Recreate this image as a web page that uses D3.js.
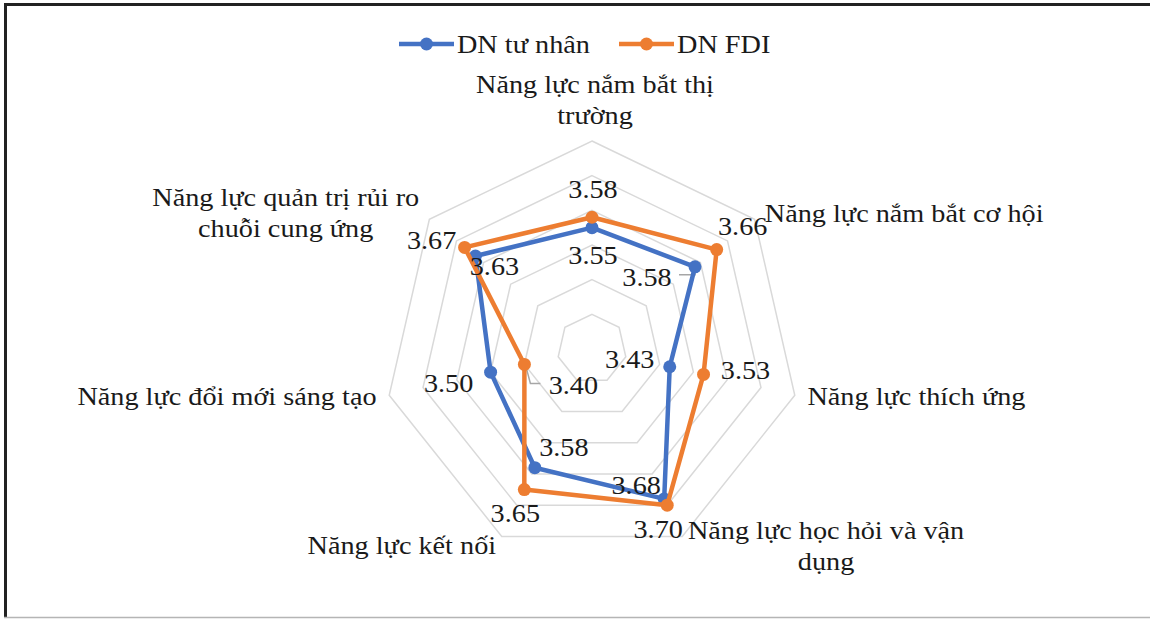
<!DOCTYPE html>
<html>
<head>
<meta charset="utf-8">
<script src="https://cdn.jsdelivr.net/npm/d3@7"></script>
<style>
  html, body { margin: 0; padding: 0; background: #fff; }
</style>
</head>
<body>
<div id="chart"></div>
<script>
// == Data ====================================================================

const categories = [
  ['Năng lực nắm bắt thị', 'trường'],
  ['Năng lực nắm bắt cơ hội'],
  ['Năng lực thích ứng'],
  ['Năng lực học hỏi và vận', 'dụng'],
  ['Năng lực kết nối'],
  ['Năng lực đổi mới sáng tạo'],
  ['Năng lực quản trị rủi ro', 'chuỗi cung ứng']
]
const seriesNames = ['DN tư nhân', 'DN FDI']
const privateValues = [3.55, 3.58, 3.43, 3.68, 3.58, 3.50, 3.63]
const fdiValues = [3.58, 3.66, 3.53, 3.70, 3.65, 3.40, 3.67]
const gridTicks = [3.3, 3.4, 3.5, 3.6, 3.7, 3.8]
const colors = ['#4472C4', '#ED7D31']

// == Layout ==================================================================

const width = 1150
const height = 619
const cx = 592
const cy = 349
const R = 208
const fontSize = 25
const stretch = 1.13 // the source text is a little wider than it is tall
const fontFamily = "'Liberation Serif', Tinos, 'Times New Roman', serif"

// where each category label block sits relative to its axis end
const catLayout = [
  { side: 'top', dx: 3, dy: 6 },
  { side: 'right', dx: 0, dy: 5 },
  { side: 'right', dx: 0, dy: 1 },
  { side: 'right', dx: 0, dy: 0 },
  { side: 'left', dx: 0, dy: 0 },
  { side: 'left', dx: 0, dy: 1 },
  { side: 'left', dx: 0, dy: 4 }
]
// data label offsets from their point (text centre)
const privateLabelOffset = [[1, 28], [-48, 10], [-40, -7], [-28, -14], [29, -20], [-42, 11], [19, 10]]
const fdiLabelOffset = [[1, -28], [26, -23], [42, -4], [-9, 24], [-9, 24], [49, 21], [-33, -7]]

// == Drawing =================================================================

const svg = d3.select('#chart').append('svg')
  .attr('width', width)
  .attr('height', height)
  .attr('font-family', fontFamily)

// text widened around its own x
function addText (parent, x, y, str) {
  return parent.append('text')
    .attr('transform', 'scale(' + stretch + ',1)')
    .attr('x', x / stretch)
    .attr('y', y)
    .attr('font-size', fontSize)
    .attr('fill', '#1a1a1a')
    .text(str)
}

// frame
svg.append('line').attr('x1', 4).attr('x2', width).attr('y1', 4.5).attr('y2', 4.5)
  .attr('stroke', '#222').attr('stroke-width', 3)
svg.append('line').attr('x1', 5.5).attr('x2', 5.5).attr('y1', 3).attr('y2', 618)
  .attr('stroke', '#222').attr('stroke-width', 3)
svg.append('line').attr('x1', 4).attr('x2', width).attr('y1', 617.5).attr('y2', 617.5)
  .attr('stroke', '#b5b5b5').attr('stroke-width', 1.5)

const n = categories.length
const angle = d3.scaleLinear().domain([0, n]).range([0, 2 * Math.PI])
const r = d3.scaleLinear().domain([3.2, 3.8]).range([0, R])

function pt (i, radius) {
  let a = angle(i)
  return [cx + radius * Math.sin(a), cy - radius * Math.cos(a)]
}

// grid rings
const g = svg.append('g')
gridTicks.forEach(function (t) {
  let pts = d3.range(n).map(i => pt(i, r(t)))
  g.append('path')
    .attr('d', d3.line()(pts) + 'Z')
    .attr('fill', 'none')
    .attr('stroke', '#d9d9d9')
    .attr('stroke-width', 1.5)
})

// category labels
categories.forEach(function (lines, i) {
  let lay = catLayout[i]
  let base = pt(i, R + 13)
  let lh = 31.5
  let txt = svg.append('text')
    .attr('transform', 'scale(' + stretch + ',1)')
    .attr('font-size', fontSize)
    .attr('fill', '#1a1a1a')
    .attr('text-anchor', 'middle')
  let tspans = lines.map(l => txt.append('tspan').text(l))
  let maxW = d3.max(tspans, t => t.node().getComputedTextLength()) * stretch
  let blockH = lines.length * lh
  let xMid, yTop
  if (lay.side === 'top') {
    xMid = base[0]
    yTop = base[1] - blockH
  } else if (lay.side === 'right') {
    xMid = base[0] + maxW / 2
    yTop = base[1] - blockH / 2
  } else {
    xMid = base[0] - maxW / 2
    yTop = base[1] - blockH / 2
  }
  xMid += lay.dx
  yTop += lay.dy
  tspans.forEach(function (t, k) {
    t.attr('x', xMid / stretch).attr('y', yTop + k * lh + 22)
  })
})

// leader lines for the two offset labels
const leaders = [
  { values: privateValues, idx: 1, path: p => [[p[0] - 16, p[1] + 8], [p[0], p[1] + 8], [p[0], p[1] + 3]] },
  { values: fdiValues, idx: 5, path: p => [[p[0] + 2, p[1] + 4], [p[0] + 6, p[1] + 19], [p[0] + 16, p[1] + 19]] }
]
leaders.forEach(function (l) {
  let p = pt(l.idx, r(l.values[l.idx]))
  svg.append('path')
    .attr('d', d3.line()(l.path(p)))
    .attr('fill', 'none')
    .attr('stroke', '#a6a6a6')
    .attr('stroke-width', 1.5)
})

// series
const allSeries = [privateValues, fdiValues]
const offsets = [privateLabelOffset, fdiLabelOffset]
allSeries.forEach(function (vals, s) {
  let pts = vals.map((v, i) => pt(i, r(v)))
  svg.append('path')
    .attr('d', d3.line()(pts) + 'Z')
    .attr('fill', 'none')
    .attr('stroke', colors[s])
    .attr('stroke-width', 4.5)
    .attr('stroke-linejoin', 'round')
  svg.selectAll(null).data(pts).enter().append('circle')
    .attr('cx', d => d[0])
    .attr('cy', d => d[1])
    .attr('r', 6.5)
    .attr('fill', colors[s])
})

// data labels
allSeries.forEach(function (vals, s) {
  vals.forEach(function (v, i) {
    let p = pt(i, r(v))
    let o = offsets[s][i]
    addText(svg, p[0] + o[0], p[1] + o[1], v.toFixed(2))
      .attr('dy', '0.35em')
      .attr('text-anchor', 'middle')
  })
})

// legend
const legendItems = [
  { name: seriesNames[0], x: 399, color: colors[0] },
  { name: seriesNames[1], x: 619, color: colors[1] }
]
const lg = svg.append('g')
legendItems.forEach(function (it) {
  lg.append('line')
    .attr('x1', it.x).attr('x2', it.x + 55)
    .attr('y1', 44).attr('y2', 44)
    .attr('stroke', it.color).attr('stroke-width', 4.5)
  lg.append('circle')
    .attr('cx', it.x + 27.5).attr('cy', 44).attr('r', 6.5)
    .attr('fill', it.color)
  addText(lg, it.x + 58, 53, it.name)
})
</script>
</body>
</html>
